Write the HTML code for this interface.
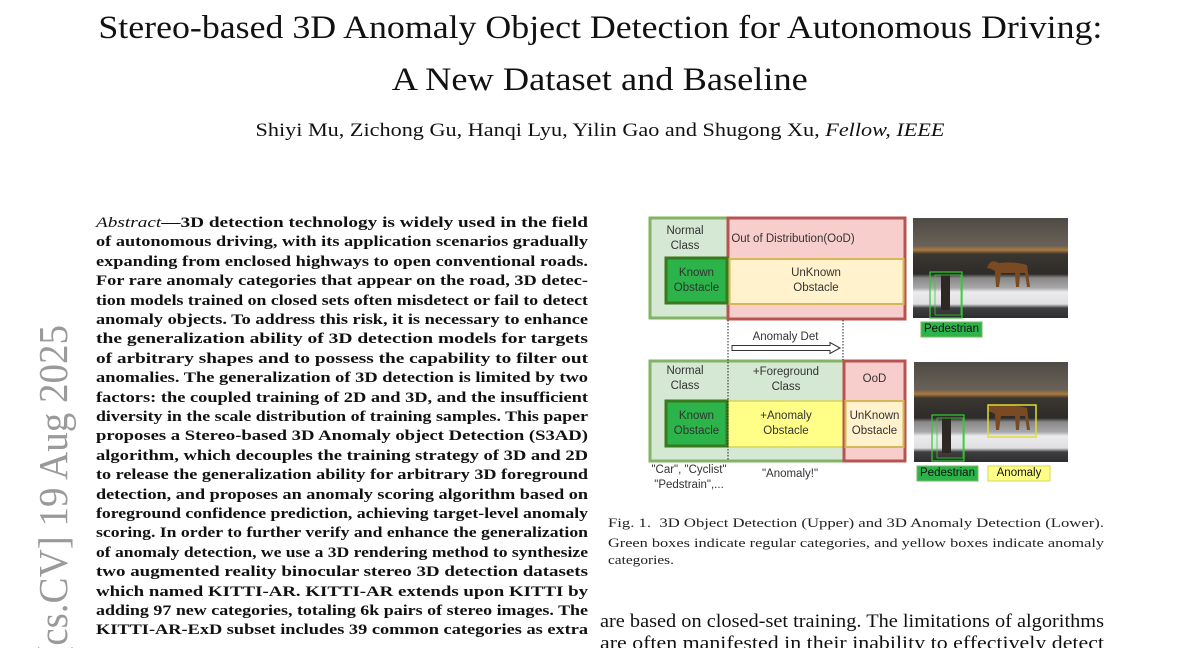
<!DOCTYPE html>
<html><head><meta charset="utf-8"><style>
*{margin:0;padding:0;box-sizing:border-box}
html,body{width:1200px;height:648px;overflow:hidden}
body{background:#fff;position:relative;font-family:"Liberation Serif",serif;color:#111}
.abs{position:absolute}
.t{position:absolute;left:0;width:1200px;text-align:center;white-space:nowrap}
.al{position:absolute;left:96px;width:492px;font-weight:bold;font-size:15px;line-height:19.4px;white-space:nowrap}
.cl{position:absolute;left:608px;width:496px;font-size:13px;line-height:17px;white-space:nowrap;color:#222}
.d{position:absolute;font-family:"Liberation Sans",sans-serif;font-size:11.5px;color:#333;text-align:center;line-height:15px}
.fit{display:inline-block;white-space:nowrap;transform-origin:0 50%}
.t .fit{transform-origin:50% 50%}
</style></head><body>
<div class="t" style="top:6px;font-size:33px;line-height:44px"><span class="fit" data-w="1004">Stereo-based 3D Anomaly Object Detection for Autonomous Driving:</span></div>
<div class="t" style="top:58px;font-size:33px;line-height:44px"><span class="fit" data-w="416">A New Dataset and Baseline</span></div>
<div class="t" style="top:119px;font-size:18.5px;line-height:24px"><span class="fit" data-w="689">Shiyi Mu, Zichong Gu, Hanqi Lyu, Yilin Gao and Shugong Xu, <i>Fellow, IEEE</i></span></div>

<div class="abs" style="left:29px;top:1325px;width:1000px;height:48px;line-height:48px;font-size:39px;color:#9a9a9a;text-align:right;white-space:nowrap;transform-origin:0 0;transform:rotate(-90deg) scaleY(1.05);">arXiv:2508.13915v1 [cs.CV] 19 Aug 2025</div>

<div class="al" style="top:214px"><span class="fit" data-w="492"><span style="font-weight:normal;font-style:italic">Abstract</span>—3D detection technology is widely used in the field</span></div>
<div class="al" style="top:233.4px"><span class="fit" data-w="492">of autonomous driving, with its application scenarios gradually</span></div>
<div class="al" style="top:252.8px"><span class="fit" data-w="492">expanding from enclosed highways to open conventional roads.</span></div>
<div class="al" style="top:272.2px"><span class="fit" data-w="492">For rare anomaly categories that appear on the road, 3D detec-</span></div>
<div class="al" style="top:291.6px"><span class="fit" data-w="492">tion models trained on closed sets often misdetect or fail to detect</span></div>
<div class="al" style="top:311px"><span class="fit" data-w="492">anomaly objects. To address this risk, it is necessary to enhance</span></div>
<div class="al" style="top:330.4px"><span class="fit" data-w="492">the generalization ability of 3D detection models for targets</span></div>
<div class="al" style="top:349.8px"><span class="fit" data-w="492">of arbitrary shapes and to possess the capability to filter out</span></div>
<div class="al" style="top:369.2px"><span class="fit" data-w="492">anomalies. The generalization of 3D detection is limited by two</span></div>
<div class="al" style="top:388.6px"><span class="fit" data-w="492">factors: the coupled training of 2D and 3D, and the insufficient</span></div>
<div class="al" style="top:408px"><span class="fit" data-w="492">diversity in the scale distribution of training samples. This paper</span></div>
<div class="al" style="top:427.4px"><span class="fit" data-w="492">proposes a Stereo-based 3D Anomaly object Detection (S3AD)</span></div>
<div class="al" style="top:446.8px"><span class="fit" data-w="492">algorithm, which decouples the training strategy of 3D and 2D</span></div>
<div class="al" style="top:466.2px"><span class="fit" data-w="492">to release the generalization ability for arbitrary 3D foreground</span></div>
<div class="al" style="top:485.6px"><span class="fit" data-w="492">detection, and proposes an anomaly scoring algorithm based on</span></div>
<div class="al" style="top:505px"><span class="fit" data-w="492">foreground confidence prediction, achieving target-level anomaly</span></div>
<div class="al" style="top:524.4px"><span class="fit" data-w="492">scoring. In order to further verify and enhance the generalization</span></div>
<div class="al" style="top:543.8px"><span class="fit" data-w="492">of anomaly detection, we use a 3D rendering method to synthesize</span></div>
<div class="al" style="top:563.2px"><span class="fit" data-w="492">two augmented reality binocular stereo 3D detection datasets</span></div>
<div class="al" style="top:582.6px"><span class="fit" data-w="492">which named KITTI-AR. KITTI-AR extends upon KITTI by</span></div>
<div class="al" style="top:602px"><span class="fit" data-w="492">adding 97 new categories, totaling 6k pairs of stereo images. The</span></div>
<div class="al" style="top:621.4px"><span class="fit" data-w="492">KITTI-AR-ExD subset includes 39 common categories as extra</span></div>

<svg class="abs" style="left:0;top:0" width="1200" height="648">
<defs>
<linearGradient id="sky" x1="0" y1="0" x2="0" y2="1">
<stop offset="0" stop-color="#4e4a44"/><stop offset="0.28" stop-color="#6a6258"/><stop offset="0.32" stop-color="#b07a3a"/><stop offset="0.36" stop-color="#3a3630"/><stop offset="0.56" stop-color="#2e2c2a"/><stop offset="0.6" stop-color="#8a8888"/><stop offset="0.7" stop-color="#a8a8aa"/><stop offset="0.74" stop-color="#ececee"/><stop offset="0.86" stop-color="#e0e0e2"/><stop offset="0.9" stop-color="#3e3e40"/><stop offset="1" stop-color="#2e2e30"/>
</linearGradient>
</defs>
<rect x="650" y="218" width="78" height="100" fill="#d5e8d4" stroke="#82b366" stroke-width="3"/>
<rect x="728" y="218" width="177" height="101" fill="#f8cecc" stroke="#b85450" stroke-width="3"/>
<rect x="729.5" y="259" width="174" height="45" fill="#fff2cc" stroke="#d6b656" stroke-width="2"/>
<rect x="666" y="258" width="61" height="45" fill="#2cb34a" stroke="#3a7a1e" stroke-width="3"/>
<rect x="650" y="361" width="194" height="100" fill="#d5e8d4" stroke="#82b366" stroke-width="3"/>
<rect x="728" y="401" width="116" height="46" fill="#ffff88" stroke="#d6d656" stroke-width="1.5"/>
<rect x="844" y="361" width="61" height="100" fill="#f8cecc" stroke="#b85450" stroke-width="3"/>
<rect x="845.5" y="401" width="58" height="46" fill="#fff2cc" stroke="#d6b656" stroke-width="2"/>
<rect x="666" y="401" width="61" height="45" fill="#2cb34a" stroke="#3a7a1e" stroke-width="3"/>
<line x1="728" y1="320" x2="728" y2="461" stroke="#222" stroke-width="1" stroke-dasharray="1.5,1.5"/>
<line x1="843" y1="320" x2="843" y2="360" stroke="#222" stroke-width="1" stroke-dasharray="1.5,1.5"/>
<path d="M732 345.5 H830 V342.5 L840 348 L830 353.5 V350.5 H732 Z" fill="#fff" stroke="#333" stroke-width="1"/>
<rect x="913" y="218" width="155" height="100" fill="url(#sky)"/>
<rect x="914" y="362" width="154" height="100" fill="url(#sky)"/>
<path d="M987 268 q3 -10 12 -5 q15 -2 28 2 l3 22 h-3 l-2 -14 h-5 l-1 14 h-3 l-1 -14 h-14 l-2 14 h-3 l-1 -16 q-5 -3 -8 -3z" fill="#7a4a22"/>
<path d="M987 411 q3 -10 12 -5 q15 -2 28 2 l3 22 h-3 l-2 -14 h-5 l-1 14 h-3 l-1 -14 h-14 l-2 14 h-3 l-1 -16 q-5 -3 -8 -3z" fill="#7a4a22"/>
<rect x="941" y="272" width="9" height="38" fill="#2e2824"/>
<rect x="942" y="415" width="9" height="38" fill="#2e2824"/>
<rect x="930" y="272" width="32" height="46" fill="none" stroke="#3c3" stroke-width="1.2"/>
<rect x="935" y="275" width="26" height="40" fill="none" stroke="#3c3" stroke-width="0.8"/>
<rect x="932" y="415" width="32" height="46" fill="none" stroke="#3c3" stroke-width="1.2"/>
<rect x="937" y="418" width="26" height="40" fill="none" stroke="#3c3" stroke-width="0.8"/>
<rect x="988" y="405" width="48" height="32" fill="none" stroke="#dd3" stroke-width="1.5"/>
<rect x="921" y="322" width="61" height="15" fill="#2cb34a" stroke="#82b366"/>
<rect x="917" y="466" width="61" height="15" fill="#2cb34a" stroke="#82b366"/>
<rect x="988" y="466" width="62" height="15" fill="#ffff88" stroke="#d6d656"/>
</svg>
<div class="d" style="left:650px;top:224px;width:70px">Normal<br>Class</div>
<div class="d" style="left:728px;top:232px;width:130px">Out of Distribution(OoD)</div>
<div class="d" style="left:666px;top:266px;width:61px">Known<br>Obstacle</div>
<div class="d" style="left:728px;top:266px;width:176px">UnKnown<br>Obstacle</div>
<div class="d" style="left:728px;top:330px;width:115px">Anomaly Det</div>
<div class="d" style="left:650px;top:364px;width:70px">Normal<br>Class</div>
<div class="d" style="left:728px;top:365px;width:116px">+Foreground<br>Class</div>
<div class="d" style="left:844px;top:372px;width:61px">OoD</div>
<div class="d" style="left:666px;top:409px;width:61px">Known<br>Obstacle</div>
<div class="d" style="left:728px;top:409px;width:116px">+Anomaly<br>Obstacle</div>
<div class="d" style="left:844px;top:409px;width:61px">UnKnown<br>Obstacle</div>
<div class="d" style="left:640px;top:463px;width:98px">"Car", "Cyclist"<br>"Pedstrain",...</div>
<div class="d" style="left:740px;top:467px;width:100px">"Anomaly!"</div>
<div class="d" style="left:921px;top:322px;width:61px;color:#111">Pedestrian</div>
<div class="d" style="left:917px;top:466px;width:61px;color:#111">Pedestrian</div>
<div class="d" style="left:988px;top:466px;width:62px;color:#111">Anomaly</div>

<div class="cl" style="top:514px"><span class="fit" data-w="496">Fig. 1.&nbsp;&nbsp;3D Object Detection (Upper) and 3D Anomaly Detection (Lower).</span></div>
<div class="cl" style="top:534px"><span class="fit" data-w="496">Green boxes indicate regular categories, and yellow boxes indicate anomaly</span></div>
<div class="cl" style="top:551px"><span class="fit" data-w="66">categories.</span></div>

<div class="abs" style="left:600px;top:611px;width:504px;font-size:19px;line-height:22px;white-space:nowrap"><span class="fit" data-w="504">are based on closed-set training. The limitations of algorithms</span></div>
<div class="abs" style="left:600px;top:633px;width:504px;font-size:19px;line-height:22px;white-space:nowrap"><span class="fit" data-w="504">are often manifested in their inability to effectively detect</span></div>
<script>
document.querySelectorAll('.fit').forEach(function(e){
  var target=parseFloat(e.getAttribute('data-w'));
  var w=e.getBoundingClientRect().width;
  if(w>0){e.style.transform='scaleX('+(target/w)+')';}
});
</script>
</body></html>
